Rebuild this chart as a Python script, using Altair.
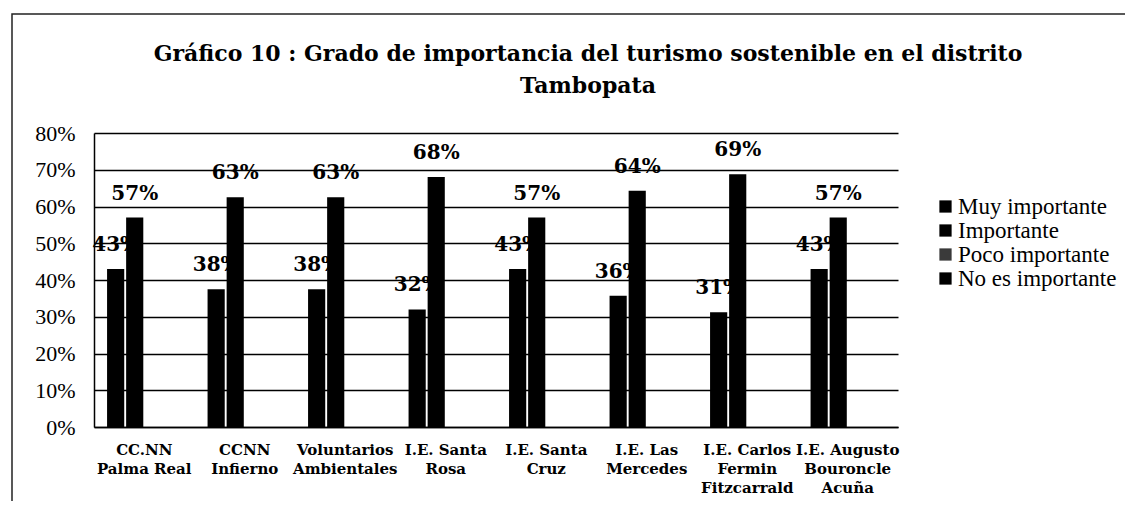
import altair as alt
import pandas as pd

categories = [
    "CC.NN\nPalma Real",
    "CCNN\nInfierno",
    "Voluntarios\nAmbientales",
    "I.E. Santa\nRosa",
    "I.E. Santa\nCruz",
    "I.E. Las\nMercedes",
    "I.E. Carlos\nFermin\nFitzcarrald",
    "I.E. Augusto\nBouroncle\nAcuña",
]
series = ["Muy importante", "Importante", "Poco importante", "No es importante"]
muy_importante = [0.43, 0.375, 0.375, 0.32, 0.43, 0.357, 0.3125, 0.43]
importante = [0.57, 0.625, 0.625, 0.68, 0.57, 0.643, 0.6875, 0.57]
poco_importante = [0, 0, 0, 0, 0, 0, 0, 0]
no_es_importante = [0, 0, 0, 0, 0, 0, 0, 0]
series_colors = ["#000000", "#000000", "#3a3a3a", "#000000"]
y_ticks = [0, 0.1, 0.2, 0.3, 0.4, 0.5, 0.6, 0.7, 0.8]
title_lines = [
    "Gráfico 10 : Grado de importancia del turismo sostenible en el distrito",
    "Tambopata",
]

rows = []
for s, vals in zip(series, [muy_importante, importante, poco_importante, no_es_importante]):
    for c, v in zip(categories, vals):
        rows.append({"categoria": c, "serie": s, "valor": v})
df = pd.DataFrame(rows)

FONT = "Liberation Serif"
BFONT = "DejaVu Serif"

base = alt.Chart(df).encode(
    x=alt.X(
        "categoria:N",
        sort=categories,
        scale=alt.Scale(paddingInner=0.26, paddingOuter=0.13),
        axis=alt.Axis(
            title=None,
            labelAngle=0,
            labelExpr="split(datum.value, '\\n')",
            labelFont=BFONT,
            labelFontSize=15,
            labelFontWeight="bold",
            labelColor="black",
            labelLineHeight=19,
            labelPadding=15,
            ticks=False,
            domainColor="black",
            domainWidth=1.5,
            labelBaseline="top",
        ),
    ),
    xOffset=alt.XOffset("serie:N", sort=series, scale=alt.Scale(paddingInner=0.1, paddingOuter=0)),
    y=alt.Y(
        "valor:Q",
        scale=alt.Scale(domain=[0, 0.8]),
        axis=alt.Axis(
            title=None,
            values=y_ticks,
            format=".0%",
            grid=True,
            gridColor="black",
            gridWidth=1.3,
            domainColor="black",
            domainWidth=1.5,
            ticks=False,
            labelPadding=19,
            labelFont=FONT,
            labelFontSize=22,
            labelColor="black",
        ),
    ),
)

bars = base.mark_bar().encode(
    color=alt.Color(
        "serie:N",
        sort=series,
        scale=alt.Scale(domain=series, range=series_colors),
        legend=alt.Legend(
            title=None,
            orient="none",
            legendX=840,
            legendY=62,
            symbolType="square",
            symbolSize=150,
            symbolStrokeWidth=0,
            labelFont=FONT,
            labelFontSize=23,
            labelColor="black",
            labelOffset=1,
            rowPadding=0,
        ),
    )
)

labels = base.transform_filter("datum.valor > 0").mark_text(
    dy=-24,
    font=BFONT,
    fontSize=20,
    fontWeight="bold",
    color="black",
    baseline="middle",
).encode(text=alt.Text("valor:Q", format=".0%"))

frame = alt.Chart(pd.DataFrame({"a": [0]})).mark_rect(
    fill="transparent", stroke="#222222", strokeWidth=1.5
).encode(
    x=alt.value(-82), x2=alt.value(1400), y=alt.value(-119), y2=alt.value(900)
)

chart = alt.layer(frame, bars, labels).properties(
    width=804,
    height=294,
    autosize=alt.AutoSizeParams(type="none"),
    padding={"left": 86, "top": 125, "right": 227, "bottom": 74},
    title=alt.TitleParams(
        text=title_lines,
        font=BFONT,
        fontSize=22,
        fontWeight="bold",
        color="black",
        anchor="middle",
        frame="group",
        dx=92,
        offset=-85,
        lineHeight=32,
    ),
).configure_view(stroke=None)

chart.save("out.html", embed_options={"renderer": "svg", "actions": False})
